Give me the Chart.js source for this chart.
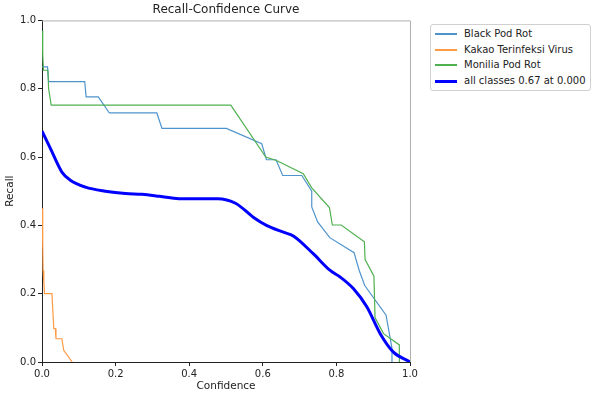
<!DOCTYPE html>
<html>
<head>
<meta charset="utf-8">
<script src="https://cdn.jsdelivr.net/npm/chart.js@4.4.1/dist/chart.umd.min.js"></script>
<style>
  html, body { margin: 0; padding: 0; background: #fff; }
  #wrap { position: relative; width: 592px; height: 395px; }
  #legend {
    position: absolute; left: 430px; top: 24px; width: 159px; height: 65px;
    border: 1px solid #d0d0d0; border-radius: 3px; background: #fff;
    font-family: 'DejaVu Sans', sans-serif; font-size: 10px; color: #222;
    box-sizing: content-box;
  }
  .swatch { position: absolute; left: 4px; width: 22px; }
  .label { position: absolute; left: 33px; white-space: nowrap; line-height: 14px; }
</style>
</head>
<body>
<div id="wrap">
  <canvas id="chart" width="592" height="395"></canvas>
  <div id="legend"></div>
</div>
<script>
// Series
const blackPodConf   = [0, 0.015, 0.018, 0.116, 0.12, 0.153, 0.183, 0.312, 0.326, 0.501, 0.597, 0.61, 0.636, 0.654, 0.706, 0.733, 0.733, 0.749, 0.782, 0.848, 0.862, 0.877, 0.935, 0.951, 0.951];
const blackPodRecall = [0.864, 0.864, 0.821, 0.821, 0.776, 0.776, 0.729, 0.729, 0.684, 0.684, 0.639, 0.592, 0.592, 0.546, 0.546, 0.5, 0.454, 0.41, 0.364, 0.32, 0.268, 0.224, 0.137, 0.04, 0];

const kakaoConf   = [0, 0.002, 0.003, 0.005, 0.007, 0.027, 0.032, 0.036, 0.038, 0.054, 0.059, 0.082];
const kakaoRecall = [0.45, 0.34, 0.268, 0.233, 0.2, 0.2, 0.098, 0.098, 0.068, 0.068, 0.034, 0];

const moniliaConf   = [0, 0.002, 0.004, 0.016, 0.018, 0.025, 0.513, 0.608, 0.637, 0.71, 0.733, 0.781, 0.789, 0.813, 0.876, 0.878, 0.902, 0.905, 0.928, 0.971, 0.971];
const moniliaRecall = [0.97, 0.9, 0.854, 0.854, 0.8, 0.752, 0.752, 0.6, 0.59, 0.551, 0.51, 0.452, 0.401, 0.401, 0.352, 0.3, 0.251, 0.13, 0.083, 0.05, 0];

const allConf   = [0, 0.025, 0.054, 0.077, 0.118, 0.172, 0.227, 0.272, 0.32, 0.372, 0.477, 0.527, 0.574, 0.61, 0.656, 0.683, 0.737, 0.783, 0.81, 0.846, 0.883, 0.919, 0.955, 1.0];
const allRecall = [0.676, 0.62, 0.556, 0.532, 0.512, 0.5, 0.493, 0.491, 0.485, 0.478, 0.478, 0.464, 0.424, 0.4, 0.38, 0.369, 0.317, 0.268, 0.249, 0.215, 0.161, 0.083, 0.029, 0.0];

const seriesNames = ['Black Pod Rot', 'Kakao Terinfeksi Virus', 'Monilia Pod Rot', 'all classes 0.67 at 0.000'];
const xTicks = [0, 0.2, 0.4, 0.6, 0.8, 1.0];

const FONT = "'DejaVu Sans', sans-serif";

function pts(xs, ys) {
  return xs.map((x, i) => ({ x: x, y: ys[i] }));
}

function thinLine(label, xs, ys, color, order) {
  return {
    label: label,
    data: pts(xs, ys),
    borderColor: color,
    borderWidth: 1.2,
    pointRadius: 0,
    tension: 0,
    order: order,
  };
}

const datasets = [
  thinLine(seriesNames[0], blackPodConf, blackPodRecall, '#4f93cc', 3),
  thinLine(seriesNames[1], kakaoConf, kakaoRecall, '#ff9a45', 2),
  thinLine(seriesNames[2], moniliaConf, moniliaRecall, '#4fb04f', 1),
  {
    label: seriesNames[3],
    data: pts(allConf, allRecall),
    borderColor: '#0000ff',
    borderWidth: 3,
    pointRadius: 0,
    cubicInterpolationMode: 'monotone',
    order: 0,
  },
];

// top and right spines (matplotlib draws them lighter here)
const spines = {
  id: 'spines',
  afterDatasetsDraw(chart) {
    const a = chart.chartArea;
    const ctx = chart.ctx;
    ctx.save();
    ctx.strokeStyle = '#b0b0b0';
    ctx.lineWidth = 1;
    ctx.beginPath();
    ctx.moveTo(a.left, a.top + 0.5);
    ctx.lineTo(a.right + 0.5, a.top + 0.5);
    ctx.lineTo(a.right + 0.5, a.bottom);
    ctx.stroke();
    ctx.restore();
  },
};

new Chart(document.getElementById('chart'), {
  type: 'line',
  data: { datasets: datasets },
  plugins: [spines],
  options: {
    responsive: false,
    animation: false,
    layout: { padding: { top: 0, right: 182, bottom: 0, left: 0 } },
    plugins: {
      legend: { display: false },
      tooltip: { enabled: false },
      title: {
        display: true,
        text: 'Recall-Confidence Curve',
        fullSize: false,
        color: '#222',
        font: { family: FONT, size: 12, weight: 'normal', lineHeight: 1.2 },
        padding: { top: 3, bottom: 3 },
      },
    },
    scales: {
      x: {
        type: 'linear',
        min: 0,
        max: 1,
        afterFit: (s) => { s.height = 33; },
        afterBuildTicks: (s) => { s.ticks = xTicks.map((v) => ({ value: v })); },
        ticks: {
          color: '#222',
          font: { family: FONT, size: 10 },
          padding: 2,
          maxRotation: 0,
          callback: (v) => Number(v).toFixed(1),
        },
        grid: { drawOnChartArea: false, drawTicks: true, tickLength: 4, color: '#222' },
        border: { color: '#222', width: 1 },
        title: {
          display: true,
          text: 'Confidence',
          color: '#222',
          font: { family: FONT, size: 10.5 },
          padding: { top: 0, bottom: 2 },
        },
      },
      y: {
        min: 0,
        max: 1,
        afterFit: (s) => { s.width = 42; },
        ticks: {
          stepSize: 0.2,
          color: '#222',
          font: { family: FONT, size: 10 },
          padding: 2,
          callback: (v) => Number(v).toFixed(1),
        },
        grid: { drawOnChartArea: false, drawTicks: true, tickLength: 4, color: '#222' },
        border: { color: '#222', width: 1 },
        title: {
          display: true,
          text: 'Recall',
          color: '#222',
          font: { family: FONT, size: 10.5 },
          padding: { top: 4, bottom: 0 },
        },
      },
    },
  },
});

// legend box built from the datasets, one row every ~15.5px
const legendEl = document.getElementById('legend');
const rowCenters = [9, 25, 40, 56];
datasets.forEach((d, i) => {
  const h = d.borderWidth > 2 ? 3 : 2;
  const sw = document.createElement('div');
  sw.className = 'swatch';
  sw.style.height = h + 'px';
  sw.style.top = (rowCenters[i] - Math.floor(h / 2)) + 'px';
  sw.style.backgroundColor = d.borderColor;
  const lb = document.createElement('span');
  lb.className = 'label';
  lb.style.top = (rowCenters[i] - 7) + 'px';
  lb.textContent = d.label;
  legendEl.appendChild(sw);
  legendEl.appendChild(lb);
});
</script>
</body>
</html>
